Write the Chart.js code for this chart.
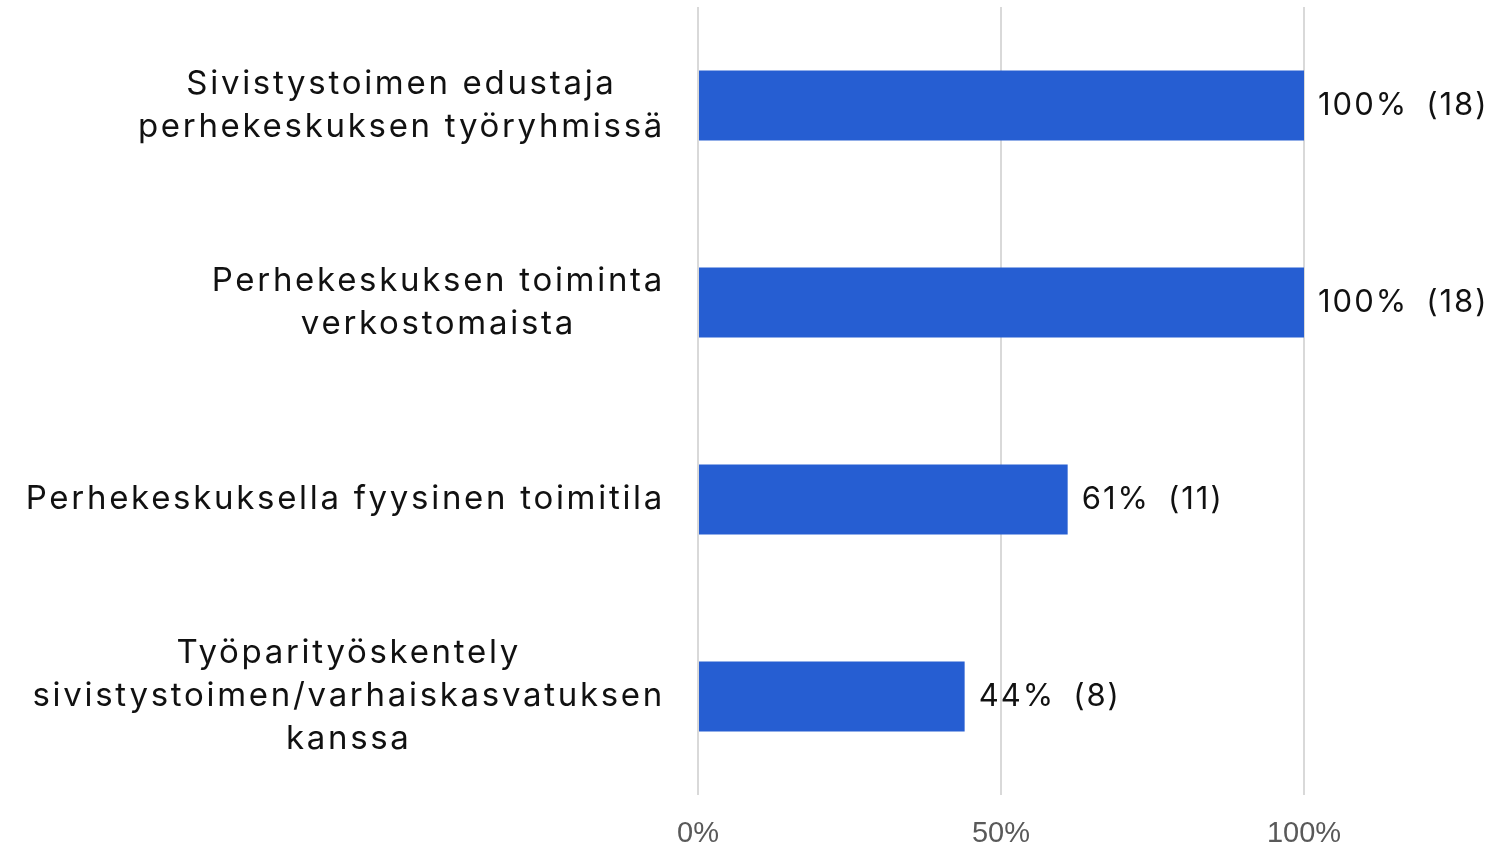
<!DOCTYPE html>
<html>
<head>
<meta charset="utf-8">
<script src="https://cdn.jsdelivr.net/npm/chart.js@4"></script>
<style>
  html, body { margin: 0; padding: 0; background: #fff; }
  #wrap { width: 1489px; height: 849px; }
</style>
</head>
<body>
<div id="wrap"><canvas id="kaavio"></canvas></div>
<script>
// tiedot
const kategoriat = [
  ["Sivistystoimen edustaja", "perhekeskuksen työryhmissä"],
  ["Perhekeskuksen toiminta", "verkostomaista"],
  ["Perhekeskuksella fyysinen toimitila"],
  ["Työparityöskentely", "sivistystoimen/varhaiskasvatuksen", "kanssa"]
];
const prosentit = [100, 100, 61, 44];
const lukumaarat = [18, 18, 11, 8];
const akseliTikit = [0, 50, 100];

const fontti = "'Inter', 'Noto Sans', sans-serif";

// y-akselin nimet piirretään itse, rivit keskitettynä
const nimetPlugin = {
  id: "nimet",
  afterDraw(chart) {
    const ctx = chart.ctx;
    const y = chart.scales.y;
    const oikea = y.right - 33;
    ctx.save();
    ctx.font = "33px " + fontti;
    ctx.letterSpacing = "2.7px";
    ctx.fillStyle = "#111";
    ctx.textBaseline = "middle";
    ctx.textAlign = "center";
    const rivi = 43;
    kategoriat.forEach((rivit, i) => {
      let leveys = 0;
      rivit.forEach(r => { leveys = Math.max(leveys, ctx.measureText(r).width); });
      const keski = oikea - leveys / 2;
      const yk = y.getPixelForValue(i);
      const alku = yk - (rivit.length - 1) * rivi / 2;
      rivit.forEach((r, j) => ctx.fillText(r, keski, alku + j * rivi));
    });
    ctx.restore();
  }
};

// arvot palkkien perään
const arvotPlugin = {
  id: "arvot",
  afterDatasetsDraw(chart) {
    const ctx = chart.ctx;
    const meta = chart.getDatasetMeta(0);
    ctx.save();
    ctx.font = "31px " + fontti;
    ctx.letterSpacing = "2px";
    ctx.fillStyle = "#111";
    ctx.textBaseline = "middle";
    ctx.textAlign = "left";
    meta.data.forEach((bar, i) => {
      const teksti = prosentit[i] + "%";
      const x = bar.x + 14;
      ctx.fillText(teksti, x, bar.y);
      const w = ctx.measureText(teksti).width;
      ctx.fillText("(" + lukumaarat[i] + ")", x + w + 18, bar.y);
    });
    ctx.restore();
  }
};

const ctx = document.getElementById("kaavio").getContext("2d");
new Chart(ctx, {
  type: "bar",
  data: {
    labels: kategoriat.map(k => k.join(" ")),
    datasets: [{
      data: prosentit,
      backgroundColor: "#265ed2",
      barPercentage: 0.355,
      categoryPercentage: 1
    }]
  },
  options: {
    indexAxis: "y",
    responsive: true,
    maintainAspectRatio: false,
    animation: false,
    layout: { padding: { top: 7, right: 185, left: 0, bottom: 0 } },
    plugins: {
      legend: { display: false },
      tooltip: { enabled: false }
    },
    scales: {
      x: {
        min: 0,
        max: 100,
        afterBuildTicks(scale) {
          scale.ticks = akseliTikit.map(v => ({ value: v }));
        },
        afterFit(scale) { scale.height = 54; },
        grid: { color: "#d9d9d9", lineWidth: 2, drawTicks: false },
        border: { display: false },
        ticks: {
          padding: 22,
          color: "#595959",
          font: { family: "'Liberation Sans', Arial, sans-serif", size: 29 },
          callback: v => v + "%"
        }
      },
      y: {
        grid: { display: false },
        border: { display: false },
        ticks: { display: false },
        afterFit(scale) { scale.width = 698; }
      }
    }
  },
  plugins: [nimetPlugin, arvotPlugin]
});
</script>
</body>
</html>
